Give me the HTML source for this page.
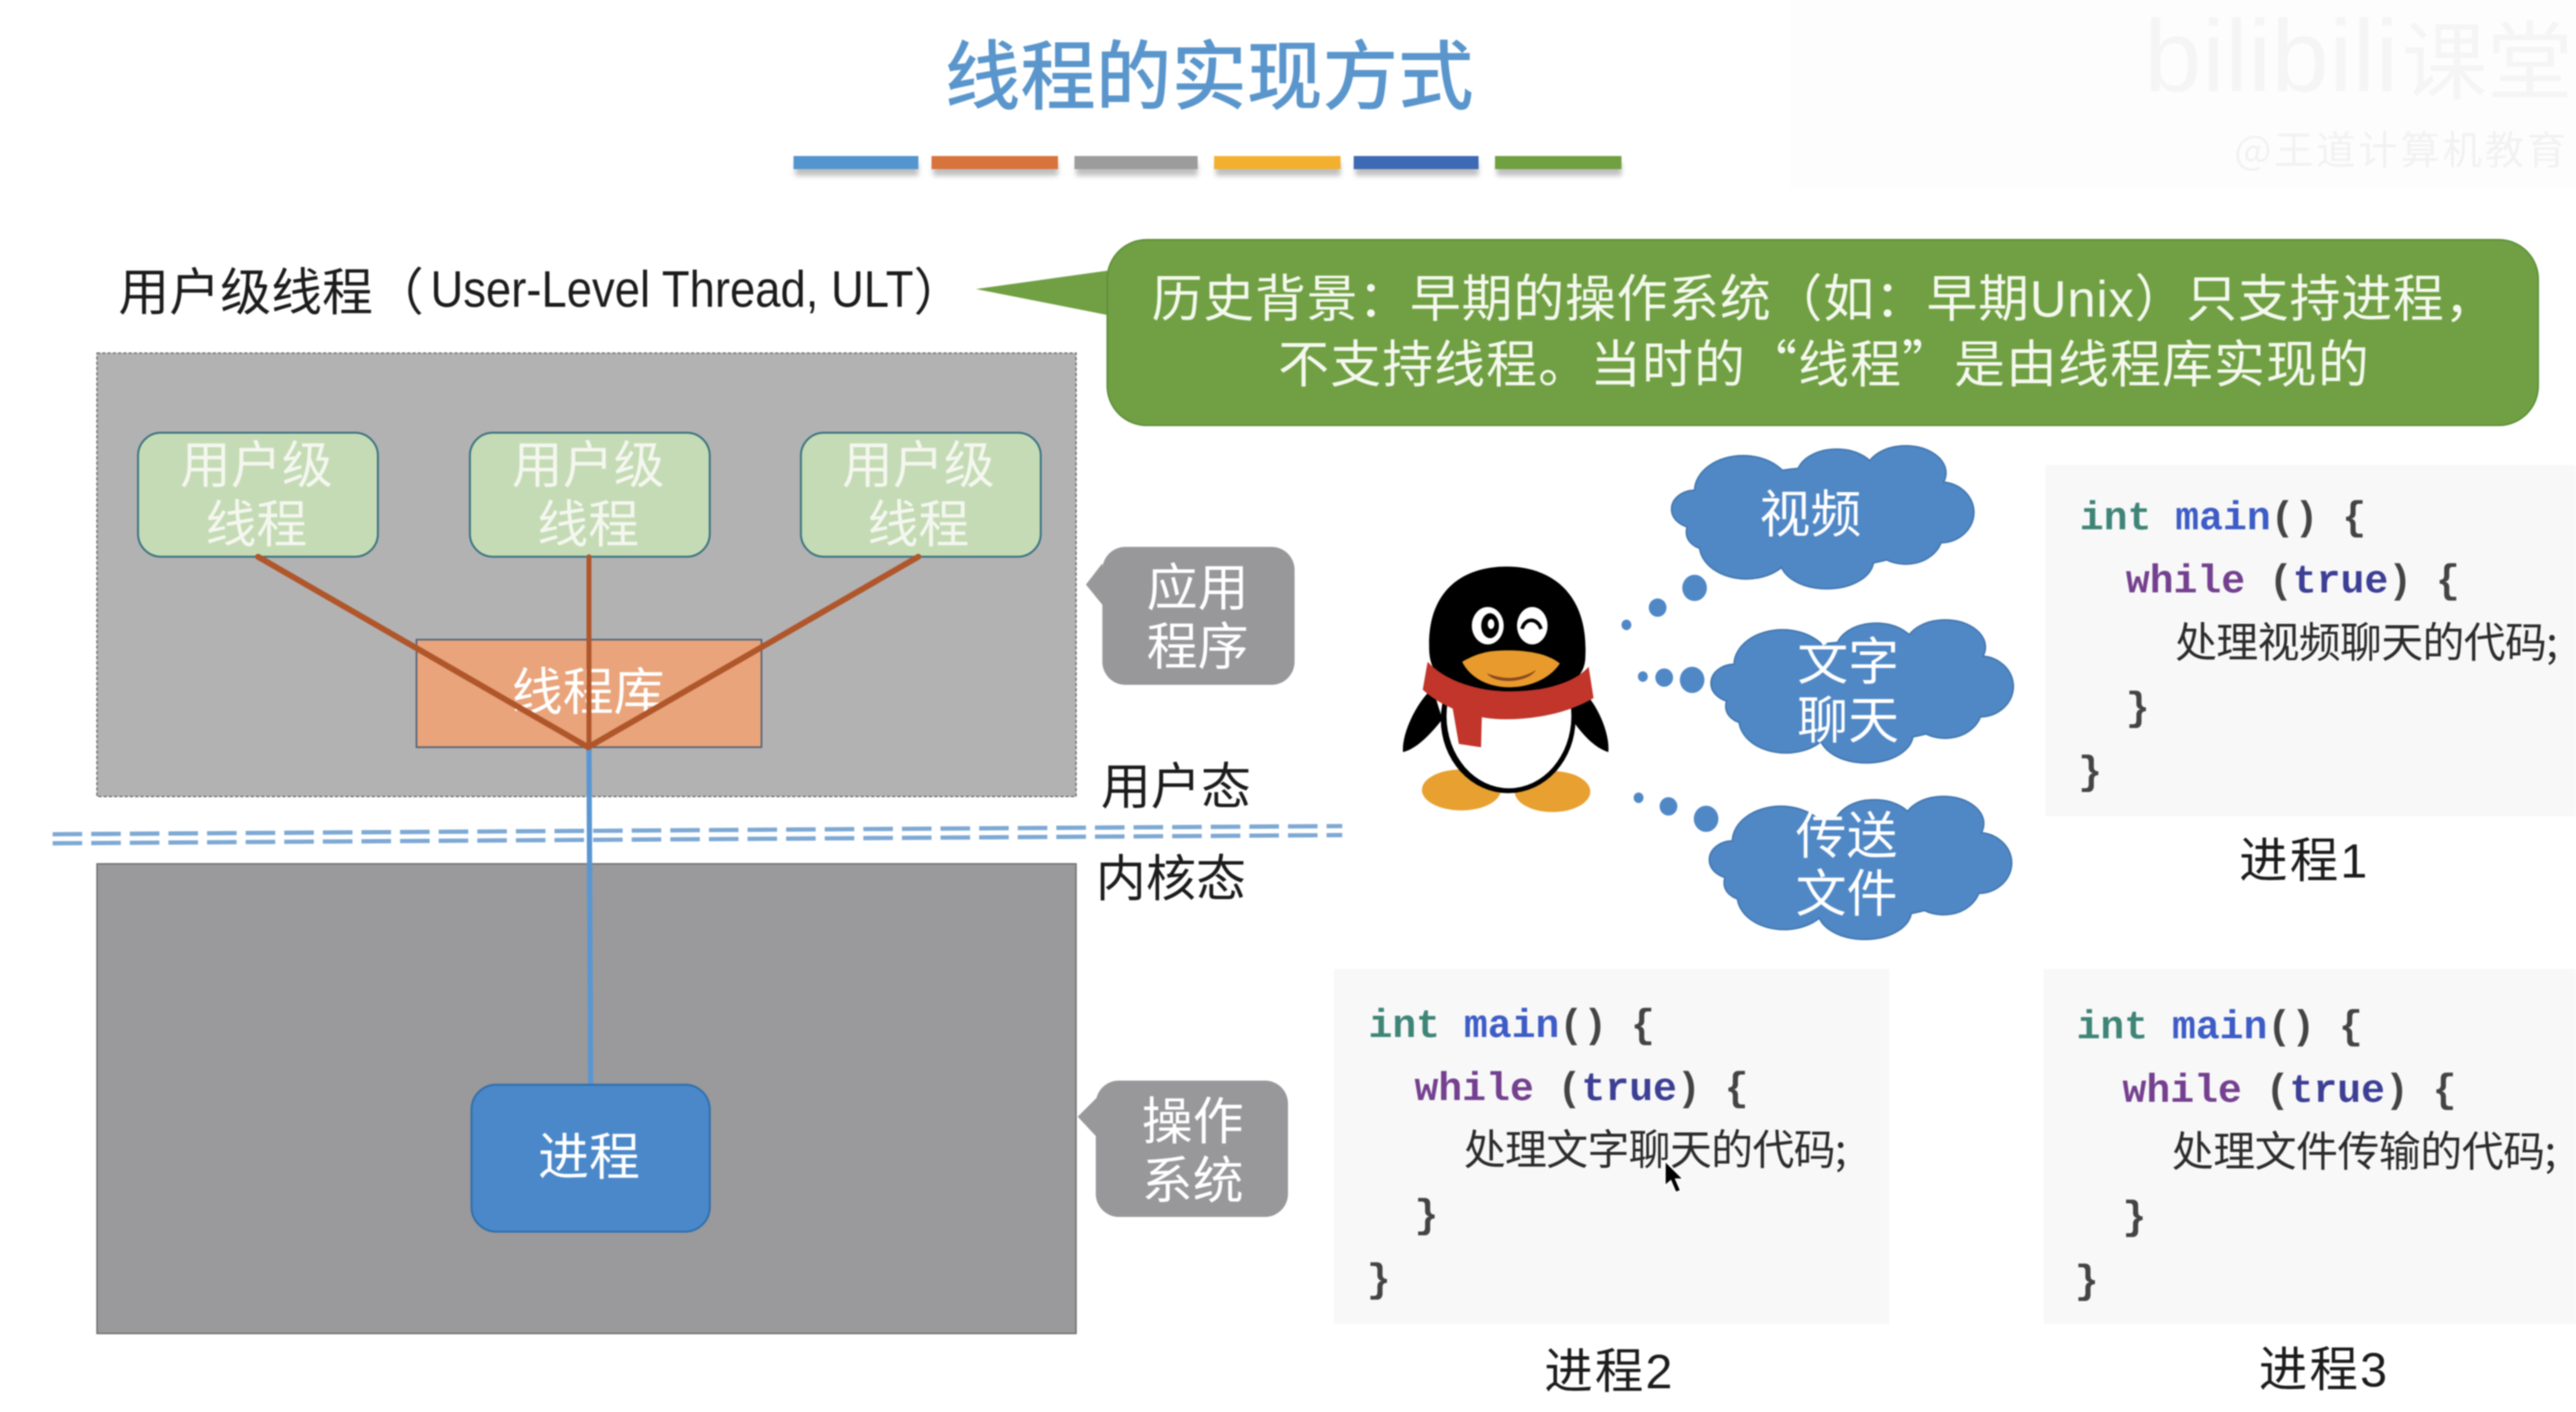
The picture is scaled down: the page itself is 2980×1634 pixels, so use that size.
<!DOCTYPE html>
<html lang="zh-CN">
<head>
<meta charset="utf-8">
<title>线程的实现方式</title>
<style>
html,body{margin:0;padding:0;background:#fff;width:2980px;height:1634px;overflow:hidden}
svg{display:block;filter:blur(0.8px)}
text{font-family:"Liberation Sans","Noto Sans CJK SC",sans-serif;dominant-baseline:central}
.w{fill:#fff;font-size:31px;text-anchor:middle}
.wn{fill:#f4f7ef;font-size:31px;text-anchor:middle}
.k{fill:#1c1c1c;font-size:30.5px;font-family:"Noto Sans CJK SC",sans-serif}
.m{font-family:"Liberation Mono","Noto Sans CJK SC",monospace;font-size:24.2px;fill:#444;font-weight:700}
.cn{font-family:"Noto Sans CJK SC",sans-serif;font-size:25.5px;fill:#2c2c2c}
.i{fill:#3f8577}.f{fill:#3d5cc6}.h{fill:#74408f}.t{fill:#3c3f94}
</style>
</head>
<body>
<svg xmlns="http://www.w3.org/2000/svg" width="2980" height="1634" viewBox="0 0 1568 859.8">
<defs>
<filter id="sh" x="-10%" y="-50%" width="120%" height="250%"><feGaussianBlur stdDeviation="1.6"/></filter>
<g id="cloud">
<ellipse cx="93" cy="43" rx="72" ry="30"/>
<ellipse cx="15" cy="38" rx="14" ry="11"/>
<ellipse cx="44" cy="27" rx="29" ry="21"/>
<ellipse cx="101" cy="18" rx="24" ry="16"/>
<ellipse cx="143" cy="16" rx="24" ry="16"/>
<ellipse cx="164" cy="40" rx="20" ry="18"/>
<ellipse cx="143" cy="53" rx="22" ry="18"/>
<ellipse cx="95" cy="69" rx="28" ry="17"/>
<ellipse cx="46" cy="60" rx="28" ry="20"/>
<ellipse cx="22" cy="52" rx="12" ry="10"/>
</g>
</defs>

<rect width="1568" height="860" fill="#fff"/>

<!-- watermark -->
<rect x="1090" y="0" width="478" height="115" fill="#fdfdfd"/>
<text x="1305" y="34" font-size="62" fill="#f5f5f5" textLength="155" lengthAdjust="spacingAndGlyphs">bilibili</text>
<text x="1462" y="34" font-size="52" fill="#f5f5f5" style="font-family:'Noto Sans CJK SC',sans-serif" textLength="104">课堂</text>
<text x="1360" y="90" font-size="24" fill="#f2f2f2" style="font-family:'Noto Sans CJK SC',sans-serif" textLength="202">@王道计算机教育</text>

<!-- title -->
<text x="736" y="43.5" font-size="46" fill="#5a96cc" text-anchor="middle" font-weight="500" style="font-family:'Noto Sans CJK SC',sans-serif">线程的实现方式</text>

<!-- bars -->
<g filter="url(#sh)" fill="#aaa" opacity=".75">
<rect x="484" y="99" width="75" height="8"/><rect x="568" y="99" width="76" height="8"/><rect x="655" y="99" width="74" height="8"/><rect x="740" y="99" width="76" height="8"/><rect x="825" y="99" width="75" height="8"/><rect x="911" y="99" width="76" height="8"/>
</g>
<rect x="483" y="95" width="76" height="8" fill="#5395cf"/>
<rect x="567" y="95" width="77" height="8" fill="#d9733c"/>
<rect x="654" y="95" width="75" height="8" fill="#9c9c9c"/>
<rect x="739" y="95" width="77" height="8" fill="#f3b02f"/>
<rect x="824" y="95" width="76" height="8" fill="#3e69b3"/>
<rect x="910" y="95" width="77" height="8" fill="#70a03f"/>

<!-- heading -->
<text x="72" y="175.5" font-size="31" fill="#1c1c1c" style="font-family:'Noto Sans CJK SC',sans-serif">用户级线程（</text>
<text x="262" y="176.5" font-size="31" fill="#1c1c1c" textLength="294" lengthAdjust="spacingAndGlyphs">User-Level Thread, ULT</text>
<text x="556" y="175.5" font-size="31" fill="#1c1c1c" style="font-family:'Noto Sans CJK SC',sans-serif">）</text>

<!-- green callout -->
<path d="M594 176 L680 164 L680 193 Z" fill="#70a043"/>
<rect x="674" y="146" width="871" height="113" rx="24" fill="#70a043" stroke="#5f8f39" stroke-width="1"/>
<text x="701" y="182.5" font-size="31" fill="#f4f8ee" textLength="818">历史背景：早期的操作系统（如：早期Unix）只支持进程，</text>
<text x="778" y="219.5" font-size="31" fill="#f4f8ee" style="font-family:'Noto Sans CJK SC',sans-serif" textLength="664">不支持线程。当时的“线程”是由线程库实现的</text>

<!-- gray boxes -->
<rect x="59" y="215" width="596" height="270" fill="#b3b2b3" stroke="#6a6a6a" stroke-width=".8" stroke-dasharray="2 1.2"/>
<rect x="59" y="526" width="596" height="286" fill="#9a999b" stroke="#6a6a6a" stroke-width=".8"/>

<!-- thread nodes -->
<g fill="#c5dbb5" stroke="#3c7480" stroke-width="1.2">
<rect x="84" y="263.5" width="146" height="75.5" rx="14"/>
<rect x="286" y="263.5" width="146" height="75.5" rx="14"/>
<rect x="487.5" y="263.5" width="146" height="75.5" rx="14"/>
</g>
<text class="wn" x="156" y="284">用户级</text><text class="wn" x="156" y="320">线程</text>
<text class="wn" x="358" y="284">用户级</text><text class="wn" x="358" y="320">线程</text>
<text class="wn" x="559" y="284">用户级</text><text class="wn" x="559" y="320">线程</text>

<!-- library -->
<rect x="253.5" y="389.5" width="210" height="65.5" fill="#e9a47b" stroke="#50627a" stroke-width="1"/>
<text class="w" x="358" y="422">线程库</text>

<!-- double dashed separator -->
<g stroke="#7ea9d4" stroke-width="2.6" stroke-dasharray="18 5.5" fill="none">
<line x1="32" y1="508" x2="817" y2="503"/>
<line x1="32" y1="513.5" x2="817" y2="508.5"/>
</g>

<!-- connectors -->
<line x1="358.5" y1="455" x2="359.5" y2="660" stroke="#5a97d2" stroke-width="3.2"/>
<g stroke="#b0562b" fill="none" stroke-linecap="round">
<line x1="157" y1="339" x2="358" y2="455" stroke-width="3.6"/>
<line x1="358.5" y1="339" x2="358.5" y2="455" stroke-width="3"/>
<line x1="559" y1="339" x2="358" y2="455" stroke-width="3.6"/>
</g>

<!-- process -->
<rect x="287" y="660.5" width="145" height="89.5" rx="15" fill="#4a88c9" stroke="#2f70ad" stroke-width="1.2"/>
<text class="w" x="358.5" y="705">进程</text>

<!-- gray tags -->
<path d="M671 343 L661 356 L674 372 Z" fill="#98979a"/>
<rect x="671" y="333" width="117" height="84" rx="14" fill="#98979a"/>
<text class="w" x="729" y="358.5">应用</text><text class="w" x="729" y="394.5">程序</text>
<path d="M668 668 L656 680 L670 695 Z" fill="#98979a"/>
<rect x="667" y="658" width="117" height="83" rx="14" fill="#98979a"/>
<text class="w" x="726" y="683.5">操作</text><text class="w" x="726" y="719.5">系统</text>

<text class="k" x="670" y="476.5">用户态</text>
<text class="k" x="667" y="532.5">内核态</text>

<!-- clouds -->
<g fill="#5088c6">
<g transform="translate(1017,272)"><use href="#cloud" stroke="#4378b0" stroke-width="2"/><use href="#cloud"/></g>
<g transform="translate(1041,378)"><use href="#cloud" stroke="#4378b0" stroke-width="2"/><use href="#cloud"/></g>
<g transform="translate(1040,485.5)"><use href="#cloud" stroke="#4378b0" stroke-width="2"/><use href="#cloud"/></g>
<ellipse cx="1031.5" cy="358" rx="7.5" ry="8"/><ellipse cx="1009" cy="370" rx="5.4" ry="5.6"/><ellipse cx="990" cy="380.5" rx="3" ry="3.2"/>
<ellipse cx="1030" cy="414" rx="7.5" ry="8"/><ellipse cx="1013" cy="412.6" rx="5.4" ry="5.6"/><ellipse cx="1000" cy="412" rx="3" ry="3.2"/>
<ellipse cx="1038.5" cy="498.6" rx="7.5" ry="8"/><ellipse cx="1015.6" cy="491" rx="5.4" ry="5.6"/><ellipse cx="997.4" cy="485.8" rx="3" ry="3.2"/>
</g>
<text class="w" x="1102" y="314">视频</text>
<text class="w" x="1125" y="403.5">文字</text><text class="w" x="1125" y="439.5">聊天</text>
<text class="w" x="1124" y="509.5">传送</text><text class="w" x="1124" y="545">文件</text>

<!-- penguin -->
<g>
<ellipse cx="889.5" cy="481" rx="24" ry="12.5" fill="#e8a030"/>
<ellipse cx="945" cy="482" rx="23" ry="12.5" fill="#e8a030"/>
<path d="M872 419 C862 428 853 447 854 458 C862 456 870 448 878 438 Z" fill="#000"/>
<path d="M962 419 C972 428 980 446 979 458 C970 455 963 447 956 437 Z" fill="#000"/>
<ellipse cx="918" cy="438" rx="41" ry="45" fill="#000"/>
<ellipse cx="918.5" cy="436" rx="38" ry="44" fill="#fff"/>
<path d="M870 397 C868 360 890 345 917 345 C945 345 967 362 965 400 C965 412 955 424 918 424 C885 424 871 414 870 397 Z" fill="#000"/>
<path d="M869 403 C880 415 900 421 919 421 C940 421 958 416 967 406 L970 425 C955 434 935 438 916 438 C897 438 878 431 866 420 Z" fill="#c1352a"/>
<path d="M884 430 L902 436 L901.5 455 L888 453 Z" fill="#c1352a"/>
<ellipse cx="905.6" cy="381" rx="9.7" ry="11.4" fill="#fff"/>
<ellipse cx="932.7" cy="381" rx="9.3" ry="11.4" fill="#fff"/>
<ellipse cx="907" cy="381" rx="5.4" ry="7.6" fill="#000"/>
<ellipse cx="907.6" cy="380" rx="2" ry="3" fill="#fff"/>
<path d="M926.5 383 C928 376 936 376 938 383" fill="none" stroke="#000" stroke-width="2.2"/>
<path d="M890 403 C900 397 908 396 918 396 C930 396 942 398 949.5 404 C943 414 930 418.5 919 418.5 C906 418.5 895 413 890 403 Z" fill="#e89a2c"/>
<path d="M905 410 C915 414 925 414 935 408 C930 416 910 417 905 410 Z" fill="#8a4a22"/>
</g>

<!-- code blocks -->
<rect x="1245" y="283" width="323" height="214" fill="#f8f8f9"/>
<rect x="812" y="590" width="338" height="216" fill="#f8f8f9"/>
<rect x="1244" y="590" width="324" height="216" fill="#f8f8f9"/>

<text class="m" x="1266" y="316"><tspan class="i">int</tspan> <tspan class="f">main</tspan>() {</text>
<text class="m" x="1294" y="354.5"><tspan class="h">while</tspan> (<tspan class="t">true</tspan>) {</text>
<text class="cn" x="1324" y="389" textLength="233">处理视频聊天的代码;</text>
<text class="m" x="1294" y="432">}</text>
<text class="m" x="1265" y="471">}</text>

<text class="m" x="833" y="625"><tspan class="i">int</tspan> <tspan class="f">main</tspan>() {</text>
<text class="m" x="861" y="663.5"><tspan class="h">while</tspan> (<tspan class="t">true</tspan>) {</text>
<text class="cn" x="891" y="698" textLength="233">处理文字聊天的代码;</text>
<text class="m" x="861" y="741">}</text>
<text class="m" x="832" y="780">}</text>

<text class="m" x="1264" y="626"><tspan class="i">int</tspan> <tspan class="f">main</tspan>() {</text>
<text class="m" x="1292" y="664.5"><tspan class="h">while</tspan> (<tspan class="t">true</tspan>) {</text>
<text class="cn" x="1322" y="699" textLength="234">处理文件传输的代码;</text>
<text class="m" x="1292" y="742">}</text>
<text class="m" x="1263" y="781">}</text>

<text x="1363" y="524" font-size="29.5" fill="#1c1c1c" textLength="78">进程1</text>
<text x="940" y="835" font-size="29.5" fill="#1c1c1c" textLength="78">进程2</text>
<text x="1375" y="834" font-size="29.5" fill="#1c1c1c" textLength="78">进程3</text>

<!-- cursor -->
<path d="M1013.5 707 L1013.5 722 L1017 719 L1020 726 L1023 725 L1020 718 L1024.5 718 Z" fill="#000" stroke="#fff" stroke-width=".8"/>
</svg>
</body>
</html>
